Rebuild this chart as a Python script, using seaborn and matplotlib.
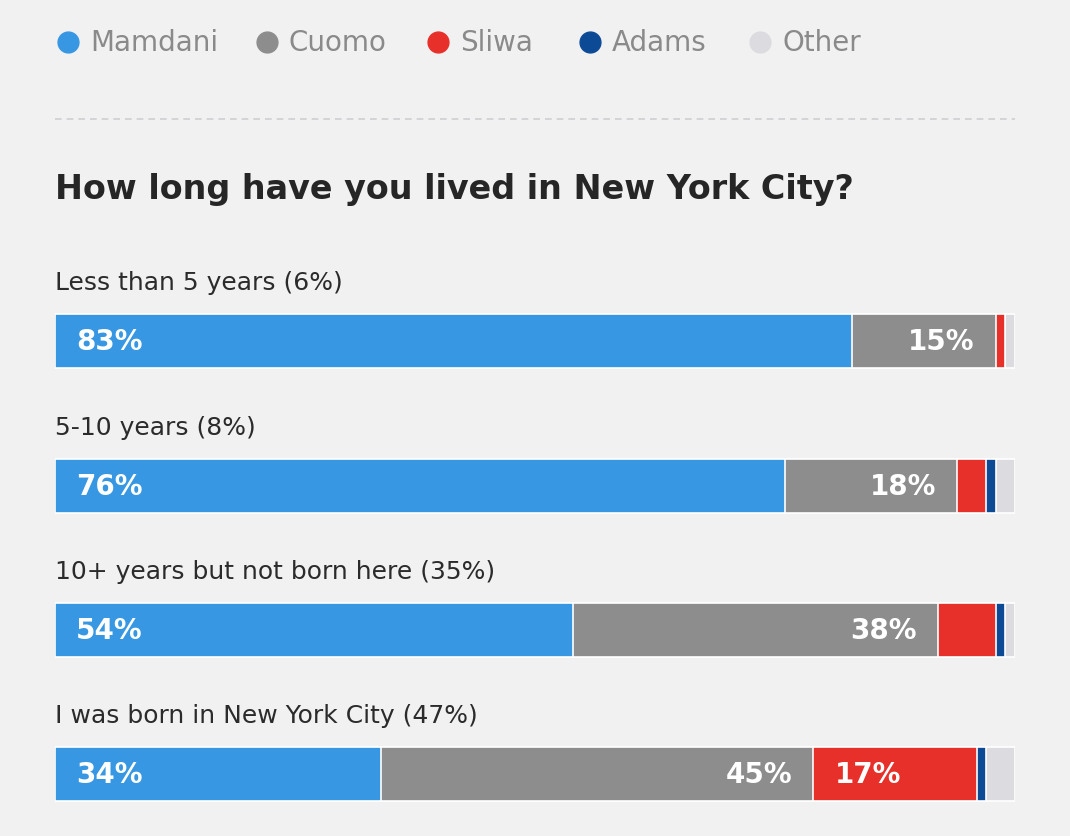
import matplotlib.pyplot as plt
import seaborn as sns
import numpy as np
import pandas as pd
from matplotlib.lines import Line2D

candidates = ['Mamdani', 'Cuomo', 'Sliwa', 'Adams', 'Other']
colors = ['#3897e2', '#8d8d8d', '#e8302a', '#0d4a96', '#dcdce0']
groups = ['Less than 5 years (6%)', '5-10 years (8%)',
          '10+ years but not born here (35%)', 'I was born in New York City (47%)']
mamdani = [83, 76, 54, 34]
cuomo = [15, 18, 38, 45]
sliwa = [1, 3, 6, 17]
adams = [0, 1, 1, 1]
other = [1, 2, 1, 3]
shown = [[True, True, False, False, False],
         [True, True, False, False, False],
         [True, True, False, False, False],
         [True, True, True, False, False]]
legend_x = [68, 267, 438, 590, 760]

sns.set_style('white')
plt.rcParams['font.family'] = ['DejaVu Sans']

vals = np.array([mamdani, cuomo, sliwa, adams, other], dtype=float)
vals = vals / vals.sum(axis=0) * 100
cum = vals.cumsum(axis=0)

fig = plt.figure(figsize=(10.7, 8.37), dpi=100)
fig.patch.set_facecolor('#f1f1f2')
ax = fig.add_axes([55 / 1070, 1 - 810 / 837, 960 / 1070, (810 - 250) / 837])
ax.set_facecolor('none')

for k in range(len(candidates) - 1, -1, -1):
    df = pd.DataFrame({'group': groups, 'value': cum[k]})
    sns.barplot(data=df, x='value', y='group', orient='h', color=colors[k],
                width=0.374, saturation=1, ax=ax, edgecolor='white', linewidth=1.2)

series = [mamdani, cuomo, sliwa, adams, other]
for i, g in enumerate(groups):
    ax.text(0, i - 0.41, g, fontsize=18, color='#2b2b2b', va='center', ha='left')
    for k in range(len(candidates)):
        if not shown[i][k]:
            continue
        start = cum[k - 1][i] if k > 0 else 0
        label = f'{series[k][i]}%'
        if k == 1:
            ax.text(cum[k][i] - 2.2, i, label, color='white', fontsize=20,
                    fontweight='bold', va='center', ha='right')
        else:
            ax.text(start + 2.2, i, label, color='white', fontsize=20,
                    fontweight='bold', va='center', ha='left')

ax.set_xlim(0, 100)
ax.set_ylim(3.24, -0.64)
ax.axis('off')

for name, c, x in zip(candidates, colors, legend_x):
    fig.add_artist(Line2D([x / 1070], [1 - 43 / 837], marker='o', markersize=15,
                          color=c, linestyle=''))
    fig.text((x + 22) / 1070, 1 - 43 / 837, name, fontsize=20, color='#8a8a8a',
             va='center', ha='left')

fig.add_artist(Line2D([55 / 1070, 1015 / 1070], [1 - 120 / 837] * 2, color='#cfcfd2',
                      linestyle=(0, (4, 3)), linewidth=1.2))
fig.text(55 / 1070, 1 - 190 / 837, 'How long have you lived in New York City?',
         fontsize=24, fontweight='bold', color='#262626', va='center', ha='left')

fig.savefig('out.png', dpi=100, facecolor=fig.get_facecolor())
